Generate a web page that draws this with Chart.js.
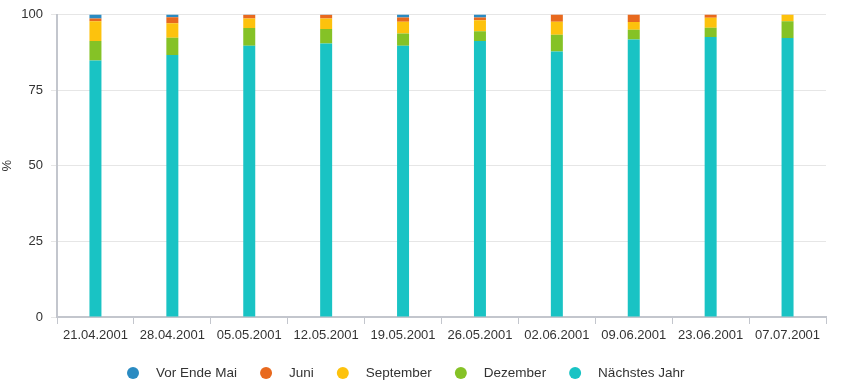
<!DOCTYPE html>
<html lang="de">
<head>
  <meta charset="UTF-8">
  <title>Umfrage</title>
  <script src="https://cdn.jsdelivr.net/npm/chart.js"></script>
  <style>
    html, body { margin: 0; padding: 0; background: #fff; }
    .container { width: 843px; height: 388px; position: relative; }
  </style>
</head>
<body>
  <div class="container">
    <canvas id="umfrageChart" width="843" height="388"></canvas>
  </div>

  <script>
    // Datum der Umfrage
    const labels = ['21.04.2001', '28.04.2001', '05.05.2001', '12.05.2001', '19.05.2001',
                    '26.05.2001', '02.06.2001', '09.06.2001', '23.06.2001', '07.07.2001'];

    // Anteile in % (von unten nach oben gestapelt)
    const naechstesJahr = [84.8, 86.6, 89.7, 90.4, 89.7, 91.2, 87.8, 91.7, 92.6, 92.2];
    const dezember      = [6.4, 5.7, 5.8, 4.8, 4.0, 3.3, 5.5, 3.3, 3.0, 5.6];
    const september     = [6.6, 4.8, 3.2, 3.5, 3.9, 3.6, 4.3, 2.5, 3.3, 2.1];
    const juni          = [0.9, 2.0, 1.2, 1.2, 1.4, 0.9, 2.4, 2.5, 1.1, 0.1];
    const vorEndeMai    = [1.3, 0.9, 0.1, 0.1, 1.0, 1.0, 0.0, 0.0, 0.0, 0.0];

    const yTicks = [0, 25, 50, 75, 100];

    const textColor = '#333';
    const axisColor = '#c3c6cd';
    const gridColor = '#e6e6e6';
    const font = 'Liberation Sans, Arial, sans-serif';

    // Legende selbst zeichnen (Kreis, Abstand wie im Original)
    const legendPlugin = {
      id: 'customLegend',
      afterDraw(chart) {
        const ctx = chart.ctx;
        const items = [...chart.data.datasets].reverse();
        ctx.save();
        ctx.font = '13.5px ' + font;
        ctx.textBaseline = 'middle';
        let x = 133;
        const y = 373;
        items.forEach(ds => {
          ctx.beginPath();
          ctx.arc(x, y, 6, 0, Math.PI * 2);
          ctx.fillStyle = ds.backgroundColor;
          ctx.fill();
          ctx.fillStyle = textColor;
          ctx.fillText(ds.label, x + 23, y);
          x += 23 + ctx.measureText(ds.label).width + 29;
        });
        ctx.restore();
      }
    };

    const ctx = document.getElementById('umfrageChart').getContext('2d');
    const umfrageChart = new Chart(ctx, {
      type: 'bar',
      data: {
        labels: labels,
        datasets: [
          { label: 'Nächstes Jahr', data: naechstesJahr, backgroundColor: '#19c3c4' },
          { label: 'Dezember', data: dezember, backgroundColor: '#85c226' },
          { label: 'September', data: september, backgroundColor: '#fdc20d' },
          { label: 'Juni', data: juni, backgroundColor: '#e8691e' },
          { label: 'Vor Ende Mai', data: vorEndeMai, backgroundColor: '#2a8bc2' }
        ]
      },
      options: {
        responsive: false,
        animation: false,
        barPercentage: 0.78,
        categoryPercentage: 0.2,
        layout: { padding: { left: 0, right: 17, top: 13, bottom: 41 } },
        plugins: {
          legend: { display: false },
          tooltip: { enabled: false }
        },
        scales: {
          x: {
            stacked: true,
            grid: { offset: true, drawOnChartArea: false, tickLength: 7, color: axisColor, lineWidth: 1 },
            border: { color: axisColor, width: 2 },
            ticks: { color: textColor, font: { family: font, size: 13 }, padding: 4, maxRotation: 0, autoSkip: false },
            afterFit(scale) { scale.height = 30; }
          },
          y: {
            stacked: true,
            min: 0,
            max: 100,
            afterBuildTicks(scale) { scale.ticks = yTicks.map(v => ({ value: v })); },
            grid: { color: gridColor, tickLength: 6 },
            border: { color: axisColor, width: 2 },
            ticks: { color: textColor, font: { family: font, size: 13, lineHeight: 1 }, padding: 8 },
            title: { display: true, text: '%', color: textColor, font: { family: font, size: 13 }, padding: 0 },
            afterFit(scale) { scale.width = 57; }
          }
        }
      },
      plugins: [legendPlugin]
    });
  </script>
</body>
</html>
